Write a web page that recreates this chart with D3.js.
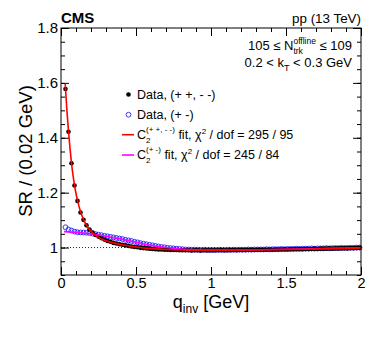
<!DOCTYPE html>
<html>
<head>
<meta charset="utf-8">
<script src="https://cdn.jsdelivr.net/npm/d3@7"></script>
<style>
  body { margin: 0; background: #fff; }
  text { font-family: "Liberation Sans", Arial, sans-serif; fill: #000; }
</style>
</head>
<body>
<div id="chart"></div>
<script>
// bin centres, 0.02 GeV bins (first bin is empty)
const qBins = d3.range(1, 100).map(i => +(0.01 + 0.02 * i).toFixed(2));

// Data, (+ +, - -)
const sameSign = [
  1.578,1.422,1.307,1.226,1.170,1.128,1.101,1.081,1.066,1.055,
  1.046,1.040,1.034,1.029,1.024,1.021,1.017,1.015,1.012,1.010,
  1.008,1.006,1.004,1.002,1.001,0.999,0.998,0.997,0.996,0.995,
  0.994,0.993,0.993,0.992,0.992,0.991,0.991,0.991,0.990,0.990,
  0.990,0.990,0.989,0.990,0.990,0.989,0.990,0.990,0.990,0.990,
  0.990,0.990,0.991,0.990,0.990,0.991,0.991,0.990,0.991,0.991,
  0.991,0.991,0.992,0.991,0.992,0.992,0.992,0.992,0.993,0.992,
  0.993,0.993,0.993,0.994,0.993,0.994,0.994,0.994,0.995,0.994,
  0.995,0.995,0.995,0.996,0.995,0.996,0.996,0.996,0.997,0.996,
  0.997,0.997,0.997,0.998,0.997,0.998,0.998,0.998,0.999
];

// Data, (+ -)
const oppSign = [
  1.074,1.066,1.062,1.058,1.056,1.055,1.055,1.054,1.053,1.051,
  1.049,1.047,1.045,1.043,1.041,1.039,1.037,1.035,1.033,1.031,
  1.028,1.026,1.024,1.021,1.019,1.016,1.014,1.012,1.010,1.008,
  1.006,1.004,1.002,1.001,0.999,0.998,0.997,0.996,0.995,0.994,
  0.993,0.993,0.992,0.992,0.992,0.991,0.992,0.991,0.991,0.991,
  0.991,0.992,0.991,0.991,0.992,0.991,0.992,0.992,0.992,0.992,
  0.992,0.993,0.992,0.993,0.993,0.993,0.993,0.994,0.993,0.994,
  0.994,0.994,0.995,0.994,0.995,0.995,0.995,0.996,0.995,0.996,
  0.996,0.996,0.997,0.996,0.997,0.997,0.997,0.998,0.997,0.998,
  0.998,0.998,0.999,0.998,0.999,0.999,0.999,1.000,1.000
];

// fit curves
const redQ   = [0.028,0.03,0.04,0.05,0.06,0.07,0.08,0.09,0.10,0.12,0.14,0.16,0.18,0.20,0.25,0.30,0.35,0.40,0.50,0.60,0.70,0.80,0.90,1.00,1.20,1.40,1.60,1.80,2.00];
const redFit = [1.598,1.580,1.495,1.424,1.362,1.308,1.264,1.228,1.197,1.150,1.116,1.091,1.073,1.059,1.037,1.025,1.017,1.011,1.002,0.996,0.993,0.991,0.990,0.990,0.991,0.992,0.994,0.996,0.998];
const magQ   = [0.02,0.05,0.10,0.15,0.20,0.25,0.30,0.35,0.40,0.45,0.50,0.55,0.60,0.70,0.80,0.90,1.00,1.20,1.40,1.60,1.80,2.00];
const magFit = [1.058,1.057,1.055,1.053,1.050,1.046,1.041,1.036,1.031,1.025,1.019,1.013,1.008,1.000,0.995,0.992,0.991,0.991,0.993,0.995,0.997,0.999];

const xMajor = [0, 0.5, 1, 1.5, 2];
const yMajor = [1, 1.2, 1.4, 1.6, 1.8];

const W = 374, H = 338;
const margin = {left: 61, right: 13, top: 28, bottom: 63};

var svg = d3.select("#chart").append("svg")
  .attr("width", W)
  .attr("height", H);

var x = d3.scaleLinear().domain([0, 2]).range([margin.left, W - margin.right]);
var y = d3.scaleLinear().domain([0.9, 1.8]).range([H - margin.bottom, margin.top]);

const fmt = d3.format("~g");

// axes, ticks pointing inwards
function styleAxis(g) {
  g.select(".domain").remove();
  g.selectAll(".tick line").attr("stroke", "#000");
}

svg.append("g")
  .attr("transform", "translate(0," + y.range()[0] + ")")
  .call(d3.axisBottom(x).tickValues(d3.range(0, 2.001, 0.1)).tickSize(-4).tickFormat(""))
  .call(styleAxis);
svg.append("g")
  .attr("transform", "translate(0," + y.range()[0] + ")")
  .call(d3.axisBottom(x).tickValues(xMajor).tickSize(-8).tickPadding(3).tickFormat(fmt))
  .call(styleAxis)
  .selectAll("text").style("font-size", "14.5px");
svg.append("g")
  .attr("transform", "translate(0," + y.range()[1] + ")")
  .call(d3.axisTop(x).tickValues(d3.range(0, 2.001, 0.1)).tickSize(-4).tickFormat(""))
  .call(styleAxis);
svg.append("g")
  .attr("transform", "translate(0," + y.range()[1] + ")")
  .call(d3.axisTop(x).tickValues(xMajor).tickSize(-8).tickFormat(""))
  .call(styleAxis);

svg.append("g")
  .attr("transform", "translate(" + x.range()[0] + ",0)")
  .call(d3.axisLeft(y).tickValues(d3.range(0.9, 1.8001, 0.05)).tickSize(-4).tickFormat(""))
  .call(styleAxis);
svg.append("g")
  .attr("transform", "translate(" + x.range()[0] + ",0)")
  .call(d3.axisLeft(y).tickValues(yMajor).tickSize(-8).tickPadding(3).tickFormat(fmt))
  .call(styleAxis)
  .selectAll("text").style("font-size", "15px");
svg.append("g")
  .attr("transform", "translate(" + x.range()[1] + ",0)")
  .call(d3.axisRight(y).tickValues(d3.range(0.9, 1.8001, 0.05)).tickSize(-4).tickFormat(""))
  .call(styleAxis);
svg.append("g")
  .attr("transform", "translate(" + x.range()[1] + ",0)")
  .call(d3.axisRight(y).tickValues(yMajor).tickSize(-8).tickFormat(""))
  .call(styleAxis);

// dotted line at 1
svg.append("line")
  .attr("x1", x(0)).attr("x2", x(2))
  .attr("y1", y(1)).attr("y2", y(1))
  .attr("stroke", "#222")
  .attr("stroke-width", 1)
  .attr("stroke-dasharray", "1,2");

// data points
svg.selectAll(".opp")
  .data(qBins.map((q, i) => [q, oppSign[i]]))
  .enter().append("circle")
    .attr("class", "opp")
    .attr("cx", d => x(d[0]))
    .attr("cy", d => y(d[1]))
    .attr("r", 2.4)
    .attr("fill", "none")
    .attr("stroke", "#2222ff")
    .attr("stroke-width", 0.9);

svg.selectAll(".same")
  .data(qBins.map((q, i) => [q, sameSign[i]]))
  .enter().append("circle")
    .attr("class", "same")
    .attr("cx", d => x(d[0]))
    .attr("cy", d => y(d[1]))
    .attr("r", 2.3)
    .attr("fill", "#000");

var line = d3.line()
  .x(d => x(d[0]))
  .y(d => y(d[1]))
  .curve(d3.curveMonotoneX);

svg.append("path")
  .datum(magQ.map((q, i) => [q, magFit[i]]))
  .attr("d", line)
  .attr("fill", "none")
  .attr("stroke", "#ff00ff")
  .attr("stroke-width", 1.6);

svg.append("path")
  .datum(redQ.map((q, i) => [q, redFit[i]]))
  .attr("d", line)
  .attr("fill", "none")
  .attr("stroke", "#ff0000")
  .attr("stroke-width", 1.6);

// frame
svg.append("rect")
  .attr("x", x.range()[0]).attr("y", y.range()[1])
  .attr("width", x.range()[1] - x.range()[0])
  .attr("height", y.range()[0] - y.range()[1])
  .attr("fill", "none")
  .attr("stroke", "#000")
  .attr("stroke-width", 1);

// header
svg.append("text")
  .text("CMS")
  .attr("x", 61).attr("y", 23)
  .style("font-size", "15px")
  .style("font-weight", "bold");
svg.append("text")
  .text("pp (13 TeV)")
  .attr("x", 361).attr("y", 23)
  .attr("text-anchor", "end")
  .style("font-size", "13.4px");

// axis titles
svg.append("text")
  .text("SR / (0.02 GeV)")
  .attr("transform", "translate(32,151) rotate(-90)")
  .attr("text-anchor", "middle")
  .style("font-size", "18.5px");

var xt = svg.append("text")
  .attr("x", 211).attr("y", 308)
  .attr("text-anchor", "middle")
  .style("font-size", "18px");
xt.append("tspan").text("q");
xt.append("tspan").text("inv").attr("dy", 5).style("font-size", "12px");
xt.append("tspan").text(" [GeV]").attr("dy", -5);

// pieces: [text, size, baseline offset, stacked-with-previous]
function richText(g, x0, y0, pieces) {
  var lastStart = x0, maxEnd = x0;
  pieces.forEach(function(p) {
    var start = p[3] ? lastStart : maxEnd;
    var t = g.append("text")
      .text(p[0])
      .attr("x", start).attr("y", y0 + p[2])
      .style("font-size", p[1] + "px")
      .style("white-space", "pre");
    var w = t.node().getComputedTextLength();
    lastStart = start;
    if (p[3]) maxEnd = Math.max(maxEnd, start + w);
    else maxEnd = start + w;
  });
  return maxEnd;
}

// top right labels
var info1 = svg.append("g");
var end1 = richText(info1, 0, 50, [
  ["105 \u2264 N", 13, 0], ["offline", 8.5, -6], ["trk", 8.5, 4, true], [" \u2264 109", 13, 0]
]);
info1.attr("transform", "translate(" + (352 - end1) + ",0)");

var info2 = svg.append("g");
var end2 = richText(info2, 0, 67, [
  ["0.2 < k", 13, 0], ["T", 9, 4], [" < 0.3 GeV", 13, 0]
]);
info2.attr("transform", "translate(" + (352 - end2) + ",0)");

// legend
const legY = [94.5, 114.7, 134.7, 155];
svg.append("circle").attr("cx", 128.5).attr("cy", legY[0]).attr("r", 2.3).attr("fill", "#000");
svg.append("circle").attr("cx", 128.5).attr("cy", legY[1]).attr("r", 2.4)
  .attr("fill", "none").attr("stroke", "#2222ff").attr("stroke-width", 0.9);
svg.append("line").attr("x1", 122).attr("x2", 134).attr("y1", legY[2]).attr("y2", legY[2])
  .attr("stroke", "#ff0000").attr("stroke-width", 1.6);
svg.append("line").attr("x1", 122).attr("x2", 134).attr("y1", legY[3]).attr("y2", legY[3])
  .attr("stroke", "#ff00ff").attr("stroke-width", 1.6);

var leg = svg.append("g");
richText(leg, 137, legY[0] + 4.3, [["Data, (+ +, - -)", 12.5, 0]]);
richText(leg, 137, legY[1] + 4.3, [["Data, (+ -)", 12.5, 0]]);
richText(leg, 137, legY[2] + 4.3, [
  ["C", 12.5, 0], ["(+ +, - -)", 8, -7], ["2", 8, 4, true],
  [" fit, \u03c7", 12.5, 0], ["2", 8, -5], [" / dof = 295 / 95", 12.5, 0]
]);
richText(leg, 137, legY[3] + 4.3, [
  ["C", 12.5, 0], ["(+ -)", 8, -7], ["2", 8, 4, true],
  [" fit, \u03c7", 12.5, 0], ["2", 8, -5], [" / dof = 245 / 84", 12.5, 0]
]);
</script>
</body>
</html>
